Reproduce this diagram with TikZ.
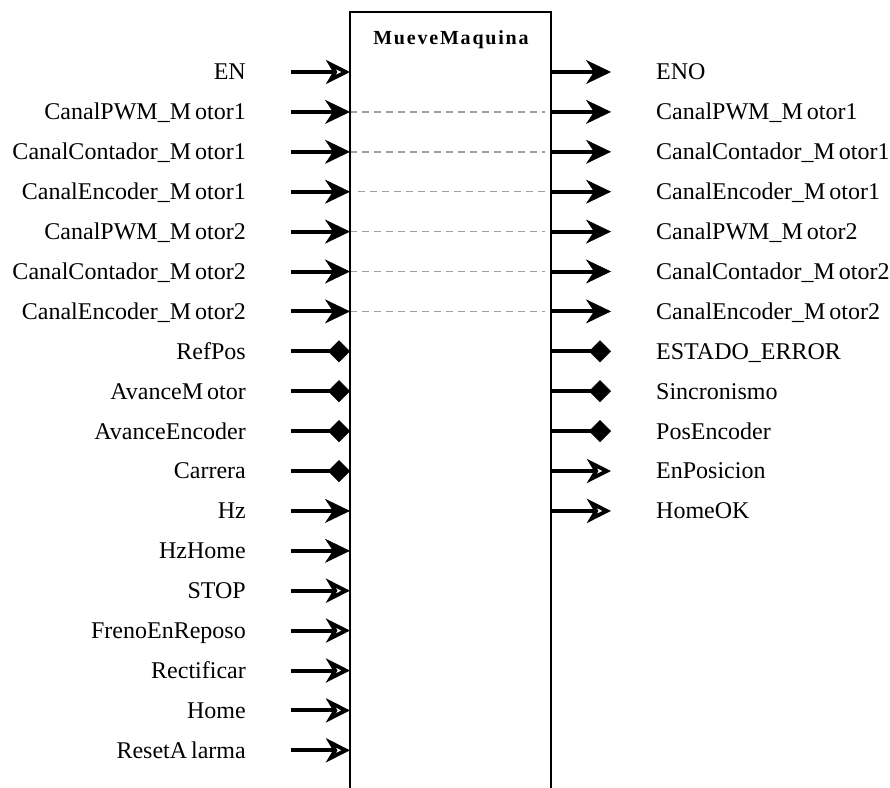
\documentclass[tikz,border=0pt]{standalone}
\usepackage{fontspec}
\setmainfont{Liberation Serif}
\usetikzlibrary{arrows.meta}
% the glyph spacing after some capitals, as printed
\newcommand\Mgap{M\kern4pt}
\newcommand\Agap{A\kern4pt}
\begin{document}
\begin{tikzpicture}[x=1pt,y=-1pt,
  lbl/.style={font=\fontsize{24}{27}\selectfont, inner sep=0pt},
  pin/.style={line width=4pt},
  tipfill/.style={-{Stealth[length=25pt,width=24pt,inset=8pt,line width=0.5pt]}},
  tipopen/.style={-{Stealth[open,length=24pt,width=24pt,inset=7pt,line width=3.8pt]}},
  tipdia/.style={-{Diamond[length=22pt,width=22pt,line width=0.5pt]}},
  link/.style={draw=black!38, line width=1.4pt, dash pattern=on 6.5pt off 5.5pt},
  body/.style={line width=1.3pt}]
\useasboundingbox (0,0) rectangle (890,787);

% function block
\coordinate (bl) at (350,800);
\coordinate (tl) at (350,12);
\coordinate (tr) at (551,12);
\coordinate (br) at (551,800);
\node[font=\fontsize{20}{23}\selectfont\bfseries\addfontfeature{LetterSpace=9}] (title) at (451,40) {MueveMaquina};

% input pins
\foreach \i/\name/\kind in {
  1/EN/tipopen,
  2/CanalPWM\_\Mgap otor1/tipfill,
  3/CanalContador\_\Mgap otor1/tipfill,
  4/CanalEncoder\_\Mgap otor1/tipfill,
  5/CanalPWM\_\Mgap otor2/tipfill,
  6/CanalContador\_\Mgap otor2/tipfill,
  7/CanalEncoder\_\Mgap otor2/tipfill,
  8/RefPos/tipdia,
  9/Avance\Mgap otor/tipdia,
  10/AvanceEncoder/tipdia,
  11/Carrera/tipdia,
  12/Hz/tipfill,
  13/HzHome/tipfill,
  14/STOP/tipopen,
  15/FrenoEnReposo/tipopen,
  16/Rectificar/tipopen,
  17/Home/tipopen,
  18/Reset\Agap larma/tipopen}{
  \pgfmathsetmacro\yy{72+(\i-1)*39.9}
  \coordinate (in\i) at (350,\yy);
  \coordinate (in\i s) at (291,\yy);
  \node[lbl, anchor=base east] (inl\i) at (246,\yy+7.9) {\name};
  \draw[pin,\kind] (in\i s) -- (in\i);
}

% output pins
\foreach \i/\name/\kind in {
  1/ENO/tipfill,
  2/CanalPWM\_\Mgap otor1/tipfill,
  3/CanalContador\_\Mgap otor1/tipfill,
  4/CanalEncoder\_\Mgap otor1/tipfill,
  5/CanalPWM\_\Mgap otor2/tipfill,
  6/CanalContador\_\Mgap otor2/tipfill,
  7/CanalEncoder\_\Mgap otor2/tipfill,
  8/ESTADO\_ERROR/tipdia,
  9/Sincronismo/tipdia,
  10/PosEncoder/tipdia,
  11/EnPosicion/tipopen,
  12/HomeOK/tipopen}{
  \pgfmathsetmacro\yy{72+(\i-1)*39.9}
  \coordinate (out\i) at (551,\yy);
  \coordinate (out\i t) at (611,\yy);
  \node[lbl, anchor=base west] (outl\i) at (656,\yy+7.9) {\name};
  \draw[pin,\kind] (out\i) -- (out\i t);
}

% pass-through links (VAR_IN_OUT)
\foreach \i in {2,3,5,6,7}{
  \draw[link] (in\i) -- ([xshift=-6pt]out\i);
}
\draw[link] ([xshift=8pt]in4) -- ([xshift=-6pt]out4);

\draw[body] (bl) -- (tl) -- (tr) -- (br);
\end{tikzpicture}
\end{document}
